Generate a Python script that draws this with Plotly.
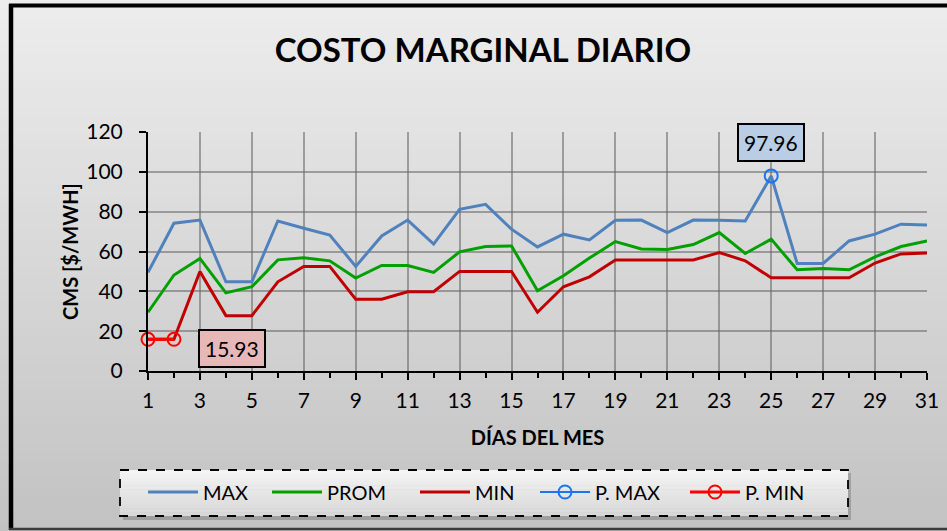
import plotly.graph_objects as go

# ---------------- data ----------------
days = list(range(1, 32))
cms_max = [49.5, 74.2, 75.8, 44.8, 44.8, 75.3, 71.7, 68.3, 52.5, 67.8, 75.8, 63.7, 81.2, 83.7, 71.2, 62.3,
           68.7, 65.8, 75.7, 75.8, 69.5, 75.8, 75.7, 75.3, 97.96, 54.0, 54.0, 65.3, 68.7, 73.7, 73.3]
cms_prom = [29.5, 48.2, 56.5, 39.2, 42.3, 55.8, 56.8, 55.3, 46.7, 53.0, 53.0, 49.5, 59.8, 62.5, 62.8, 40.3,
            47.8, 56.7, 65.0, 61.3, 61.0, 63.5, 69.5, 59.0, 66.2, 50.8, 51.5, 50.8, 57.3, 62.5, 65.3]
cms_min = [15.93, 15.93, 50.0, 27.8, 27.8, 44.8, 52.5, 52.5, 36.0, 36.0, 39.8, 39.8, 50.0, 50.0, 50.0, 29.5,
           42.3, 47.3, 55.7, 55.7, 55.7, 55.7, 59.5, 55.3, 46.8, 46.8, 46.8, 46.8, 54.2, 58.8, 59.3]
pmax_days = [25]
pmax_vals = [97.96]
pmin_days = [1, 2]
pmin_vals = [15.93, 15.93]

title_text = "COSTO MARGINAL DIARIO"
x_title = "DÍAS DEL MES"
y_title = "CMS [$/MWH]"

# ---------------- geometry ----------------
W, H = 947, 531
L, R, T, B = 148, 927, 132, 371   # plot area in pixels
PW, PH = R - L, B - T


def px(x):
    return (x - L) / PW


def py(y):
    return (B - y) / PH


FONT = "Lato"

fig = go.Figure()

fig.add_trace(go.Scatter(x=days, y=cms_max, name="MAX", mode="lines", showlegend=True,
                         line=dict(color="#4f81bd", width=3), legend="legend"))
fig.add_trace(go.Scatter(x=days, y=cms_prom, name="PROM", mode="lines",
                         line=dict(color="#00a000", width=3), legend="legend2"))
fig.add_trace(go.Scatter(x=days, y=cms_min, name="MIN", mode="lines",
                         line=dict(color="#c00000", width=3), legend="legend3"))
fig.add_trace(go.Scatter(x=pmax_days, y=pmax_vals, name="P. MAX", mode="lines+markers",
                         line=dict(color="#1a75f0", width=2),
                         marker=dict(symbol="circle-open", size=13, color="#1a75f0", line=dict(width=2)),
                         legend="legend4"))
fig.add_trace(go.Scatter(x=pmin_days, y=pmin_vals, name="P. MIN", mode="lines+markers",
                         line=dict(color="#ff0000", width=3),
                         marker=dict(symbol="circle-open", size=13, color="#ff0000", line=dict(width=2)),
                         legend="legend5", cliponaxis=False))

shapes = []
# background vertical gradient
N = 60
for i in range(N):
    y0 = i * H / N
    y1 = (i + 1) * H / N + 0.6
    t = (y0 + y1) / 2 / H
    v = int(round(237 - 43 * t))
    shapes.append(dict(type="rect", xref="paper", yref="paper", layer="below",
                       x0=px(-5), x1=px(W + 5), y0=py(y0), y1=py(y1),
                       fillcolor=f"rgb({v},{v},{v})", line=dict(width=0)))
# outer border (left, top, bottom)
shapes.append(dict(type="line", xref="paper", yref="paper", layer="below",
                   x0=px(11), x1=px(11), y0=py(4), y1=py(530), line=dict(color="black", width=4.5)))
shapes.append(dict(type="line", xref="paper", yref="paper", layer="below",
                   x0=px(9), x1=px(W + 5), y0=py(5.5), y1=py(5.5), line=dict(color="black", width=4)))
shapes.append(dict(type="line", xref="paper", yref="paper", layer="below",
                   x0=px(9), x1=px(W + 5), y0=py(529), y1=py(529), line=dict(color="#3a3a3a", width=2.5)))
# legend box shadow
shapes.append(dict(type="rect", xref="paper", yref="paper", layer="below",
                   x0=px(123), x1=px(851), y0=py(473), y1=py(520),
                   fillcolor="rgba(0,0,0,0.18)", line=dict(width=0)))
# legend box gradient
LN = 12
lx0, lx1, ly0, ly1 = 120, 848, 470, 516
for i in range(LN):
    y0 = ly0 + i * (ly1 - ly0) / LN
    y1 = ly0 + (i + 1) * (ly1 - ly0) / LN + 0.5
    t = (i + 0.5) / LN
    v = int(round(245 - 30 * t))
    shapes.append(dict(type="rect", xref="paper", yref="paper", layer="below",
                       x0=px(lx0), x1=px(lx1), y0=py(y0), y1=py(min(y1, ly1)),
                       fillcolor=f"rgb({v},{v},{v})", line=dict(width=0)))
shapes.append(dict(type="rect", xref="paper", yref="paper", layer="below",
                   x0=px(lx0), x1=px(lx1), y0=py(ly0), y1=py(ly1),
                   line=dict(color="black", width=1.8, dash="dash"), fillcolor="rgba(0,0,0,0)"))

legend_common = dict(orientation="h", bgcolor="rgba(0,0,0,0)", borderwidth=0,
                     font=dict(family=FONT, size=20, color="black"),
                     xanchor="left", yanchor="middle", itemwidth=50, y=py(492))
legend_x = [143, 267, 415, 535, 685]

annotations = [
    dict(x=pmax_days[0], y=pmax_vals[0], xref="x", yref="y", text=f"{pmax_vals[0]:.2f}",
         showarrow=False, yshift=33, font=dict(family=FONT, size=21, color="black"),
         bgcolor="#b9cde5", bordercolor="black", borderwidth=2, borderpad=5),
    dict(x=pmin_days[1], y=pmin_vals[1], xref="x", yref="y", text=f"{pmin_vals[1]:.2f}",
         showarrow=False, xshift=58, yshift=-9, font=dict(family=FONT, size=21, color="black"),
         bgcolor="#e6b9b8", bordercolor="black", borderwidth=2, borderpad=5),
]

fig.update_layout(
    width=W, height=H, autosize=False, showlegend=True,
    margin=dict(l=L, r=W - R, t=T, b=H - B, autoexpand=False),
    paper_bgcolor="#d8d8d8", plot_bgcolor="rgba(0,0,0,0)",
    font=dict(family=FONT, size=21, color="black"),
    title=dict(text=f"<b>{title_text}</b>", x=px(483), xref="paper", xanchor="center",
               y=1 - 50 / H, yref="container", yanchor="middle",
               font=dict(family=FONT, size=33, color="black")),
    shapes=shapes,
    annotations=annotations,
    legend=dict(legend_common, x=px(legend_x[0])),
    legend2=dict(legend_common, x=px(legend_x[1])),
    legend3=dict(legend_common, x=px(legend_x[2])),
    legend4=dict(legend_common, x=px(legend_x[3])),
    legend5=dict(legend_common, x=px(legend_x[4])),
    xaxis=dict(range=[1, 31], tickmode="linear", tick0=1, dtick=2,
               showgrid=True, gridcolor="rgba(100,100,100,0.55)", gridwidth=1.5,
               showline=True, linecolor="black", linewidth=2,
               ticks="outside", ticklen=7, tickwidth=2, tickcolor="black",
               minor=dict(dtick=1, tick0=1, ticks="outside", ticklen=5, tickwidth=2,
                          tickcolor="black", showgrid=False),
               ticklabelstandoff=3, zeroline=False,
               tickfont=dict(family=FONT, size=21),
               title=dict(text=f"<b>{x_title}</b>", font=dict(family=FONT, size=20), standoff=20)),
    yaxis=dict(range=[0, 120], tickmode="linear", tick0=0, dtick=20,
               showgrid=True, gridcolor="rgba(100,100,100,0.55)", gridwidth=1.5,
               showline=True, linecolor="black", linewidth=2,
               ticks="outside", ticklen=7, tickwidth=2, tickcolor="black",
               ticklabelstandoff=12, zeroline=False,
               tickfont=dict(family=FONT, size=21),
               title=dict(text=f"<b>{y_title}</b>", font=dict(family=FONT, size=20), standoff=2)),
)

fig.write_html("out.html", config={"displayModeBar": False},
               post_script="document.body.style.margin='0px';document.body.style.overflow='hidden';")
